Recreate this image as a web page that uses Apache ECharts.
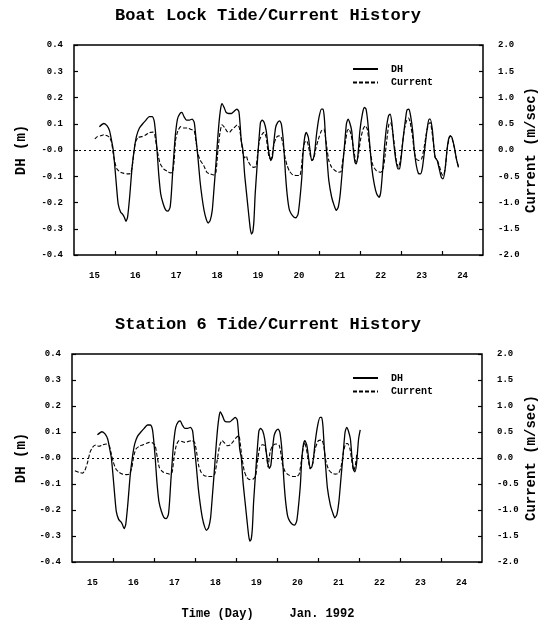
<!DOCTYPE html>
<html>
<head>
<meta charset="utf-8">
<script src="https://cdn.jsdelivr.net/npm/echarts@6/dist/echarts.min.js"></script>
<style>
html,body{margin:0;padding:0;background:#fff;}
#chart{width:547px;height:626px;}
</style>
</head>
<body>
<div id="chart"></div>
<script>
// ---- Data ----
const xLabelDays = [15, 16, 17, 18, 19, 20, 21, 22, 23, 24];
const xTickDays = [15.5, 16.5, 17.5, 18.5, 19.5, 20.5, 21.5, 22.5, 23.5];

// Boat Lock DH (m): [day, value]
const dhBoatLock = [
[15.12,0.089],[15.23,0.101],[15.31,0.092],[15.37,0.073],[15.42,0.035],[15.46,0.0],[15.50,-0.066],[15.54,-0.14],[15.58,-0.205],[15.64,-0.237],[15.69,-0.245],[15.73,-0.256],[15.77,-0.272],[15.81,-0.256],[15.86,-0.18],[15.92,-0.066],[15.98,0.01],
[16.03,0.054],[16.10,0.084],[16.18,0.1],[16.26,0.114],[16.34,0.127],[16.41,0.127],[16.46,0.111],[16.49,0.073],[16.53,0.0],[16.57,-0.09],[16.62,-0.167],[16.68,-0.205],[16.74,-0.228],[16.80,-0.233],[16.85,-0.218],[16.88,-0.167],[16.91,-0.09],[16.95,0.0],[16.98,0.06],
[17.03,0.118],[17.09,0.139],[17.14,0.143],[17.19,0.127],[17.25,0.114],[17.32,0.114],[17.39,0.118],[17.44,0.105],[17.48,0.048],[17.53,-0.028],[17.58,-0.116],[17.63,-0.18],[17.68,-0.23],[17.73,-0.262],[17.78,-0.278],[17.83,-0.268],[17.88,-0.23],[17.92,-0.154],[17.97,-0.053],
[18.01,0.035],[18.05,0.111],[18.09,0.162],[18.12,0.177],[18.17,0.162],[18.22,0.143],[18.28,0.139],[18.35,0.139],[18.41,0.147],[18.48,0.156],[18.53,0.147],[18.56,0.099],[18.59,0.035],[18.63,0.0],[18.67,-0.09],[18.72,-0.167],[18.77,-0.243],[18.81,-0.3],[18.84,-0.32],[18.87,-0.313],[18.90,-0.268],[18.93,-0.167],[18.98,-0.053],
[19.02,0.035],[19.06,0.105],[19.10,0.114],[19.15,0.105],[19.20,0.073],[19.24,0.02],[19.27,-0.015],[19.31,-0.04],[19.35,-0.028],[19.39,0.035],[19.43,0.086],[19.48,0.105],[19.53,0.111],[19.57,0.099],[19.61,0.048],[19.64,-0.015],[19.67,-0.091],[19.71,-0.167],[19.76,-0.224],[19.81,-0.243],[19.88,-0.256],[19.93,-0.258],[19.98,-0.243],
[20.02,-0.192],[20.07,-0.104],[20.10,-0.015],[20.14,0.048],[20.18,0.067],[20.23,0.048],[20.27,0.0],[20.31,-0.04],[20.35,-0.034],[20.39,0.0],[20.43,0.06],[20.49,0.124],[20.55,0.156],[20.59,0.156],[20.62,0.124],[20.65,0.048],[20.69,-0.04],[20.73,-0.116],[20.80,-0.18],[20.86,-0.211],[20.91,-0.23],[20.96,-0.218],
[21.01,-0.167],[21.06,-0.078],[21.11,0.01],[21.16,0.099],[21.20,0.118],[21.24,0.105],[21.29,0.073],[21.33,0.0],[21.37,-0.047],[21.40,-0.053],[21.44,-0.022],[21.49,0.073],[21.55,0.137],[21.60,0.162],[21.64,0.156],[21.68,0.111],[21.73,0.023],[21.78,-0.066],[21.84,-0.129],[21.90,-0.167],[21.96,-0.18],
[22.00,-0.161],[22.04,-0.091],[22.09,0.01],[22.14,0.086],[22.19,0.13],[22.23,0.137],[22.27,0.105],[22.32,0.023],[22.37,-0.04],[22.42,-0.072],[22.46,-0.072],[22.50,-0.028],[22.55,0.048],[22.60,0.111],[22.64,0.152],[22.69,0.156],[22.73,0.13],[22.78,0.073],[22.82,0.0],[22.87,-0.059],[22.92,-0.089],[22.97,-0.091],
[23.02,-0.066],[23.08,0.01],[23.13,0.076],[23.18,0.118],[23.21,0.118],[23.26,0.08],[23.30,0.01],[23.33,-0.028],[23.38,-0.04],[23.43,-0.072],[23.48,-0.104],[23.52,-0.11],[23.57,-0.078],[23.62,0.0],[23.66,0.042],[23.70,0.054],[23.74,0.048],[23.80,0.01],[23.85,-0.034],[23.90,-0.066]
];

// Boat Lock Current (m/sec)
const curBoatLock = [
[15.01,0.21],[15.07,0.255],[15.15,0.27],[15.23,0.29],[15.31,0.27],[15.37,0.24],[15.42,0.145],[15.46,-0.075],[15.50,-0.235],[15.55,-0.36],[15.64,-0.425],[15.72,-0.445],[15.80,-0.455],[15.88,-0.445],[15.92,-0.33],[15.96,-0.075],
[16.00,0.145],[16.07,0.24],[16.16,0.255],[16.25,0.285],[16.34,0.33],[16.43,0.34],[16.47,0.305],[16.51,0.115],[16.56,-0.11],[16.61,-0.265],[16.69,-0.36],[16.78,-0.405],[16.86,-0.435],[16.91,-0.425],[16.95,-0.2],[16.98,0.175],
[17.04,0.365],[17.11,0.445],[17.19,0.42],[17.27,0.42],[17.37,0.39],[17.44,0.365],[17.48,0.175],[17.53,-0.075],[17.59,-0.2],[17.67,-0.295],[17.75,-0.425],[17.83,-0.455],[17.92,-0.475],[17.97,-0.425],
[18.02,0.0],[18.07,0.335],[18.12,0.48],[18.19,0.42],[18.24,0.355],[18.30,0.335],[18.35,0.38],[18.41,0.42],[18.49,0.475],[18.54,0.43],[18.59,0.175],[18.63,-0.075],[18.67,-0.15],[18.71,-0.11],[18.75,-0.2],[18.82,-0.295],[18.89,-0.33],[18.95,-0.315],[18.99,-0.075],
[19.03,0.175],[19.10,0.3],[19.15,0.335],[19.20,0.24],[19.23,0.05],[19.27,-0.14],[19.31,-0.17],[19.35,-0.075],[19.39,0.115],[19.45,0.24],[19.51,0.27],[19.56,0.255],[19.61,0.115],[19.66,-0.14],[19.71,-0.295],[19.77,-0.405],[19.85,-0.475],[19.93,-0.485],
[20.02,-0.485],[20.06,-0.33],[20.10,0.0],[20.14,0.145],[20.19,0.175],[20.23,0.08],[20.28,-0.11],[20.33,-0.2],[20.37,-0.14],[20.42,0.05],[20.49,0.24],[20.55,0.365],[20.61,0.4],[20.65,0.24],[20.69,0.0],[20.73,-0.2],[20.80,-0.33],[20.88,-0.39],[20.96,-0.425],
[21.03,-0.41],[21.07,-0.2],[21.13,0.115],[21.18,0.365],[21.22,0.4],[21.27,0.305],[21.33,0.05],[21.37,-0.14],[21.40,-0.235],[21.45,-0.11],[21.50,0.175],[21.57,0.4],[21.62,0.46],[21.67,0.4],[21.71,0.175],[21.76,-0.11],[21.81,-0.295],[21.89,-0.39],
[22.00,-0.425],[22.06,-0.36],[22.11,-0.075],[22.16,0.27],[22.20,0.495],[22.24,0.525],[22.29,0.365],[22.34,0.05],[22.38,-0.2],[22.43,-0.33],[22.48,-0.2],[22.53,0.115],[22.58,0.4],[22.63,0.555],[22.68,0.61],[22.72,0.525],[22.78,0.24],[22.82,-0.045],[22.87,-0.17],[22.94,-0.2],
[23.00,-0.17],[23.06,0.05],[23.12,0.335],[23.17,0.495],[23.21,0.525],[23.25,0.365],[23.30,0.05],[23.33,-0.14],[23.38,-0.19],[23.43,-0.295],[23.49,-0.455],[23.53,-0.485],[23.58,-0.33],[23.62,0.0],[23.66,0.175],[23.70,0.27],[23.74,0.23],[23.80,0.04],[23.85,-0.17],[23.90,-0.315]
];

// Station 6 DH (m): same record, ending at day 21.53
const dhStation6 = dhBoatLock.filter(p => p[0] <= 21.49).concat([[21.53, 0.108]]);

// Station 6 Current (m/sec)
const curStation6 = [
[14.57,-0.245],[14.67,-0.275],[14.76,-0.29],[14.81,-0.245],[14.88,-0.085],[14.94,0.11],
[15.00,0.205],[15.08,0.25],[15.16,0.225],[15.24,0.25],[15.33,0.27],[15.41,0.235],[15.45,0.11],[15.51,-0.085],[15.57,-0.21],[15.65,-0.275],[15.73,-0.31],[15.82,-0.32],[15.90,-0.31],[15.96,-0.18],
[16.00,0.015],[16.06,0.175],[16.14,0.225],[16.22,0.25],[16.31,0.28],[16.39,0.3],[16.47,0.29],[16.53,0.235],[16.58,0.015],[16.63,-0.18],[16.71,-0.265],[16.80,-0.295],[16.88,-0.31],[16.94,-0.275],[16.98,-0.05],
[17.04,0.235],[17.11,0.335],[17.19,0.315],[17.26,0.3],[17.34,0.32],[17.42,0.335],[17.49,0.3],[17.54,0.11],[17.59,-0.145],[17.65,-0.275],[17.73,-0.34],[17.82,-0.355],[17.91,-0.355],[17.98,-0.31],
[18.04,-0.05],[18.10,0.235],[18.16,0.335],[18.22,0.29],[18.29,0.235],[18.36,0.25],[18.43,0.315],[18.51,0.395],[18.57,0.43],[18.60,0.3],[18.65,-0.02],[18.70,-0.245],[18.76,-0.37],[18.84,-0.415],[18.92,-0.405],[18.98,-0.34],
[19.02,-0.085],[19.08,0.205],[19.14,0.255],[19.20,0.235],[19.24,0.1],[19.28,-0.17],[19.33,0.11],[19.39,0.235],[19.47,0.27],[19.55,0.25],[19.59,0.11],[19.63,-0.115],[19.70,-0.265],[19.78,-0.325],[19.88,-0.355],[19.98,-0.355],
[20.04,-0.31],[20.09,-0.085],[20.14,0.205],[20.17,0.3],[20.21,0.205],[20.26,-0.02],[20.31,-0.21],[20.37,-0.115],[20.43,0.175],[20.51,0.335],[20.59,0.345],[20.64,0.235],[20.69,-0.05],[20.76,-0.225],[20.84,-0.29],[20.92,-0.31],
[21.00,-0.295],[21.06,-0.18],[21.12,0.11],[21.17,0.27],[21.22,0.28],[21.28,0.175],[21.33,-0.085],[21.37,-0.245],[21.41,-0.145],[21.45,0.1]
];

// ---- Chart ----
const FONT = '"Liberation Mono", "DejaVu Sans Mono", monospace';
const chart = echarts.init(document.getElementById('chart'), null, {renderer: 'canvas'});

const grids = [
  {left: 74, top: 45, width: 409, height: 210},
  {left: 72, top: 354, width: 410, height: 208}
];

function xAxisFor(i) {
  return {
    type: 'value', gridIndex: i, min: 14.5, max: 24.5, position: 'bottom',
    axisLine: {show: false, onZero: false},
    splitLine: {show: false},
    axisTick: {show: true, inside: true, length: 4, customValues: xTickDays,
      lineStyle: {color: '#000', width: 1.2}},
    axisLabel: {customValues: xLabelDays, margin: 16, color: '#000',
      fontFamily: FONT, fontWeight: 'bold', fontSize: 9}
  };
}
function yLeft(i) {
  return {
    type: 'value', gridIndex: i, position: 'left', min: -0.4, max: 0.4, interval: 0.1,
    axisLine: {show: false, onZero: false}, splitLine: {show: false},
    axisTick: {show: true, inside: true, length: 4, lineStyle: {color: '#000', width: 1.2}},
    axisLabel: {margin: 11, color: '#000', fontFamily: FONT, fontWeight: 'bold', fontSize: 9,
      formatter: v => (Math.abs(v) < 1e-9 ? '-0.0' : v.toFixed(1))}
  };
}
function yRight(i) {
  return {
    type: 'value', gridIndex: i, position: 'right', min: -2, max: 2, interval: 0.5,
    axisLine: {show: false, onZero: false}, splitLine: {show: false},
    axisTick: {show: true, inside: true, length: 4, lineStyle: {color: '#000', width: 1.2}},
    axisLabel: {margin: 15, color: '#000', fontFamily: FONT, fontWeight: 'bold', fontSize: 9,
      formatter: v => (Math.abs(v) < 1e-9 ? '0.0' : v.toFixed(1))}
  };
}
const zeroLine = {
  silent: true, symbol: 'none', label: {show: false}, animation: false,
  lineStyle: {color: '#000', type: [2, 3], width: 1.2},
  data: [{yAxis: 0}]
};
function dhSeries(i, data) {
  return {
    name: 'DH', type: 'line', xAxisIndex: i, yAxisIndex: 2 * i, data: data,
    symbol: 'none', showSymbol: false, smooth: 0.2,
    lineStyle: {color: '#000', width: 1.3}, itemStyle: {color: '#000'},
    markLine: zeroLine, z: 3
  };
}
function curSeries(i, data) {
  return {
    name: 'Current', type: 'line', xAxisIndex: i, yAxisIndex: 2 * i + 1, data: data,
    symbol: 'none', showSymbol: false, smooth: 0.2,
    lineStyle: {color: '#000', width: 1.1, type: [4, 2]}, itemStyle: {color: '#000'}, z: 2
  };
}
function legendFor(top) {
  return {
    orient: 'vertical', left: 352, top: top, padding: 0,
    itemWidth: 25, itemHeight: 10, itemGap: 3.5,
    data: ['DH', 'Current'],
    itemStyle: {color: 'transparent', borderColor: 'transparent', borderWidth: 0, opacity: 0},
    textStyle: {fontFamily: FONT, fontWeight: 'bold', fontSize: 10, color: '#000', padding: [0, 0, 0, 8]}
  };
}
function txt(text, x, y, size, rot) {
  return {
    type: 'text', x: x, y: y, rotation: rot || 0, silent: true,
    style: {text: text, fill: '#000', font: 'bold ' + size + 'px ' + FONT,
      textAlign: 'center', textVerticalAlign: 'middle'}
  };
}

chart.setOption({
  animation: false,
  backgroundColor: '#fff',
  grid: grids.map(g => Object.assign({show: true, borderColor: '#000', borderWidth: 1.5,
    backgroundColor: 'transparent', containLabel: false}, g)),
  xAxis: [xAxisFor(0), xAxisFor(1)],
  yAxis: [yLeft(0), yRight(0), yLeft(1), yRight(1)],
  legend: [legendFor(64), legendFor(373)],
  series: [
    dhSeries(0, dhBoatLock), curSeries(0, curBoatLock),
    dhSeries(1, dhStation6), curSeries(1, curStation6)
  ],
  graphic: [
    txt('Boat Lock Tide/Current History', 268, 16, 17),
    txt('Station 6 Tide/Current History', 268, 325, 17),
    txt('DH (m)', 21, 150, 14, Math.PI / 2),
    txt('Current (m/sec)', 531, 150, 14, Math.PI / 2),
    txt('DH (m)', 21, 458, 14, Math.PI / 2),
    txt('Current (m/sec)', 531, 458, 14, Math.PI / 2),
    txt('Time (Day)     Jan. 1992', 268, 614, 12)
  ]
});
</script>
</body>
</html>
